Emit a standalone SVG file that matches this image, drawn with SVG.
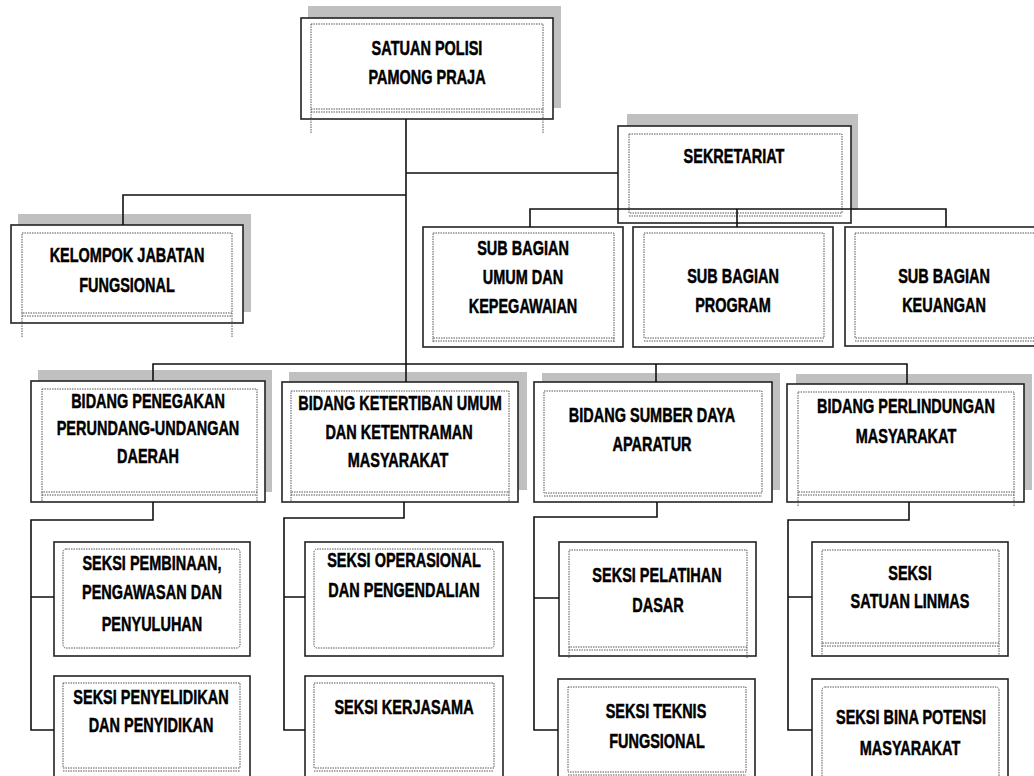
<svg xmlns="http://www.w3.org/2000/svg" width="1034" height="776" viewBox="0 0 1034 776">
<style>
.bg{fill:#fff}
.sh{fill:#c0c0c0}
.box{fill:#fff;stroke:#222;stroke-width:1.6}
.dot{fill:none;stroke:#555;stroke-width:1;stroke-dasharray:1.5 1}
.t{font-family:"Liberation Sans",Arial,sans-serif;font-weight:bold;font-size:21px;text-anchor:middle;fill:#000;stroke:#000;stroke-width:0.5}
.c{fill:none;stroke:#111;stroke-width:1.6}
</style>
<rect class="bg" x="0" y="0" width="1034" height="776"/>

<g id="satpol">
<rect class="sh" x="308" y="6" width="253" height="102"/>
<rect class="box" x="301" y="18" width="252" height="101"/>
<path class="dot" d="M311,24H543V109H311Z M311,112H543 M311,109V133 M543,109V133"/>
<text class="t" transform="translate(427,55) scale(0.69,1)">SATUAN POLISI</text>
<text class="t" transform="translate(427,84) scale(0.69,1)">PAMONG PRAJA</text>
</g>

<g id="kelompok">
<rect class="sh" x="18" y="214" width="233" height="98"/>
<rect class="box" x="11" y="225" width="232" height="98"/>
<path class="dot" d="M22,233H232V313H22Z M22,316H232 M22,313V337 M232,313V337"/>
<text class="t" transform="translate(127,262) scale(0.69,1)">KELOMPOK JABATAN</text>
<text class="t" transform="translate(127,292) scale(0.69,1)">FUNGSIONAL</text>
</g>

<g id="sekretariat">
<rect class="sh" x="627" y="114" width="231" height="96"/>
<rect class="box" x="618" y="126" width="233" height="97"/>
<path class="dot" d="M629,134H842V213H629Z M629,216H842"/>
<text class="t" transform="translate(734,163) scale(0.69,1)">SEKRETARIAT</text>
</g>

<g id="sub-umum">
<rect class="box" x="423" y="227" width="200" height="120"/>
<path class="dot" d="M433,233H614V338H433Z M433,341H614 M433,338V343 M614,338V343"/>
<text class="t" transform="translate(523,255) scale(0.69,1)">SUB BAGIAN</text>
<text class="t" transform="translate(523,284) scale(0.69,1)">UMUM DAN</text>
<text class="t" transform="translate(523,313) scale(0.69,1)">KEPEGAWAIAN</text>
</g>

<g id="sub-program">
<rect class="box" x="633" y="227" width="200" height="120"/>
<path class="dot" d="M644,233H824V338H644Z M644,341H824"/>
<text class="t" transform="translate(733,283) scale(0.69,1)">SUB BAGIAN</text>
<text class="t" transform="translate(733,312) scale(0.69,1)">PROGRAM</text>
</g>

<g id="sub-keuangan">
<rect class="box" x="845" y="227" width="200" height="119"/>
<path class="dot" d="M855,233H1036V338H855Z M855,341H1036"/>
<text class="t" transform="translate(944,283) scale(0.69,1)">SUB BAGIAN</text>
<text class="t" transform="translate(944,312) scale(0.69,1)">KEUANGAN</text>
</g>

<g id="bidang-penegakan">
<rect class="sh" x="38" y="370" width="234" height="122"/>
<rect class="box" x="31" y="381" width="234" height="121"/>
<path class="dot" d="M42,389H257V492H42Z M42,495H257 M42,492V502 M257,492V502"/>
<text class="t" transform="translate(148,408) scale(0.69,1)">BIDANG PENEGAKAN</text>
<text class="t" transform="translate(148,435) scale(0.69,1)">PERUNDANG-UNDANGAN</text>
<text class="t" transform="translate(148,463) scale(0.69,1)">DAERAH</text>
</g>

<g id="bidang-ketertiban">
<rect class="sh" x="289" y="372" width="238" height="118"/>
<rect class="box" x="282" y="382" width="236" height="120"/>
<path class="dot" d="M291,391H509V492H291Z M291,495H509 M291,492V502 M509,492V502"/>
<text class="t" transform="translate(400,410) scale(0.69,1)">BIDANG KETERTIBAN UMUM</text>
<text class="t" transform="translate(399,439) scale(0.69,1)">DAN KETENTRAMAN</text>
<text class="t" transform="translate(398,467) scale(0.69,1)">MASYARAKAT</text>
</g>

<g id="bidang-sda">
<rect class="sh" x="542" y="373" width="238" height="117"/>
<rect class="box" x="534" y="382" width="238" height="120"/>
<path class="dot" d="M544,391H762V493H544Z M544,496H762"/>
<text class="t" transform="translate(652,422) scale(0.69,1)">BIDANG SUMBER DAYA</text>
<text class="t" transform="translate(652,451) scale(0.69,1)">APARATUR</text>
</g>

<g id="bidang-perlindungan">
<rect class="sh" x="796" y="374" width="236" height="116"/>
<rect class="box" x="787" y="384" width="237" height="118"/>
<path class="dot" d="M798,392H1014V492H798Z M798,495H1014 M798,492V506 M1014,492V506"/>
<text class="t" transform="translate(906,413) scale(0.69,1)">BIDANG PERLINDUNGAN</text>
<text class="t" transform="translate(906,443) scale(0.69,1)">MASYARAKAT</text>
</g>

<g id="seksi-pembinaan">
<rect class="box" x="54" y="542" width="196" height="114"/>
<rect class="dot" x="63" y="549" width="177" height="99" rx="3"/>
<text class="t" transform="translate(152,570) scale(0.69,1)">SEKSI PEMBINAAN,</text>
<text class="t" transform="translate(152,599) scale(0.69,1)">PENGAWASAN DAN</text>
<text class="t" transform="translate(152,631) scale(0.69,1)">PENYULUHAN</text>
</g>

<g id="seksi-penyelidikan">
<rect class="box" x="54" y="676" width="196" height="114"/>
<path class="dot" d="M63,683H240V768H63Z M63,771H240"/>
<text class="t" transform="translate(151,704) scale(0.69,1)">SEKSI PENYELIDIKAN</text>
<text class="t" transform="translate(151,732) scale(0.69,1)">DAN PENYIDIKAN</text>
</g>

<g id="seksi-operasional">
<rect class="box" x="305" y="542" width="198" height="114"/>
<rect class="dot" x="314" y="549" width="180" height="99" rx="3"/>
<text class="t" transform="translate(404,567) scale(0.69,1)">SEKSI OPERASIONAL</text>
<text class="t" transform="translate(404,597) scale(0.69,1)">DAN PENGENDALIAN</text>
</g>

<g id="seksi-kerjasama">
<rect class="box" x="305" y="676" width="198" height="114"/>
<path class="dot" d="M314,683H494V768H314Z M314,771H494"/>
<text class="t" transform="translate(404,714) scale(0.69,1)">SEKSI KERJASAMA</text>
</g>

<g id="seksi-pelatihan">
<rect class="box" x="559" y="542" width="197" height="114"/>
<path class="dot" d="M569,550H747V647H569Z M569,650H747 M569,647V658 M747,647V658"/>
<text class="t" transform="translate(657,582) scale(0.69,1)">SEKSI PELATIHAN</text>
<text class="t" transform="translate(658,612) scale(0.69,1)">DASAR</text>
</g>

<g id="seksi-teknis">
<rect class="box" x="558" y="679" width="197" height="111"/>
<path class="dot" d="M568,687H746V772H568Z M568,775H746"/>
<text class="t" transform="translate(656,718) scale(0.69,1)">SEKSI TEKNIS</text>
<text class="t" transform="translate(657,748) scale(0.69,1)">FUNGSIONAL</text>
</g>

<g id="seksi-linmas">
<rect class="box" x="812" y="542" width="196" height="114"/>
<path class="dot" d="M822,550H999V643H822Z M822,646H999 M822,643V656 M999,643V656"/>
<text class="t" transform="translate(910,580) scale(0.69,1)">SEKSI</text>
<text class="t" transform="translate(910,608) scale(0.69,1)">SATUAN LINMAS</text>
</g>

<g id="seksi-bina-potensi">
<rect class="box" x="812" y="679" width="196" height="111"/>
<rect class="dot" x="822" y="687" width="177" height="95" rx="3"/>
<text class="t" transform="translate(911,724) scale(0.69,1)">SEKSI BINA POTENSI</text>
<text class="t" transform="translate(910,755) scale(0.69,1)">MASYARAKAT</text>
</g>

<g id="connectors">
<path class="c" d="M406,119V364"/>
<path class="c" d="M123,225V195H406"/>
<path class="c" d="M406,173H618"/>
<path class="c" d="M530,227V209H946V227 M737,209V227"/>
<path class="c" d="M153,381V364H907V384 M406,364V382 M656,364V382"/>
<path class="c" d="M153,502V520H31V730H54 M31,597H54"/>
<path class="c" d="M404,502V518H284V730H305 M284,597H305"/>
<path class="c" d="M657,502V517H534V730H558 M534,598H559"/>
<path class="c" d="M909,502V520H788V730H812 M788,597H812"/>
</g>
</svg>
